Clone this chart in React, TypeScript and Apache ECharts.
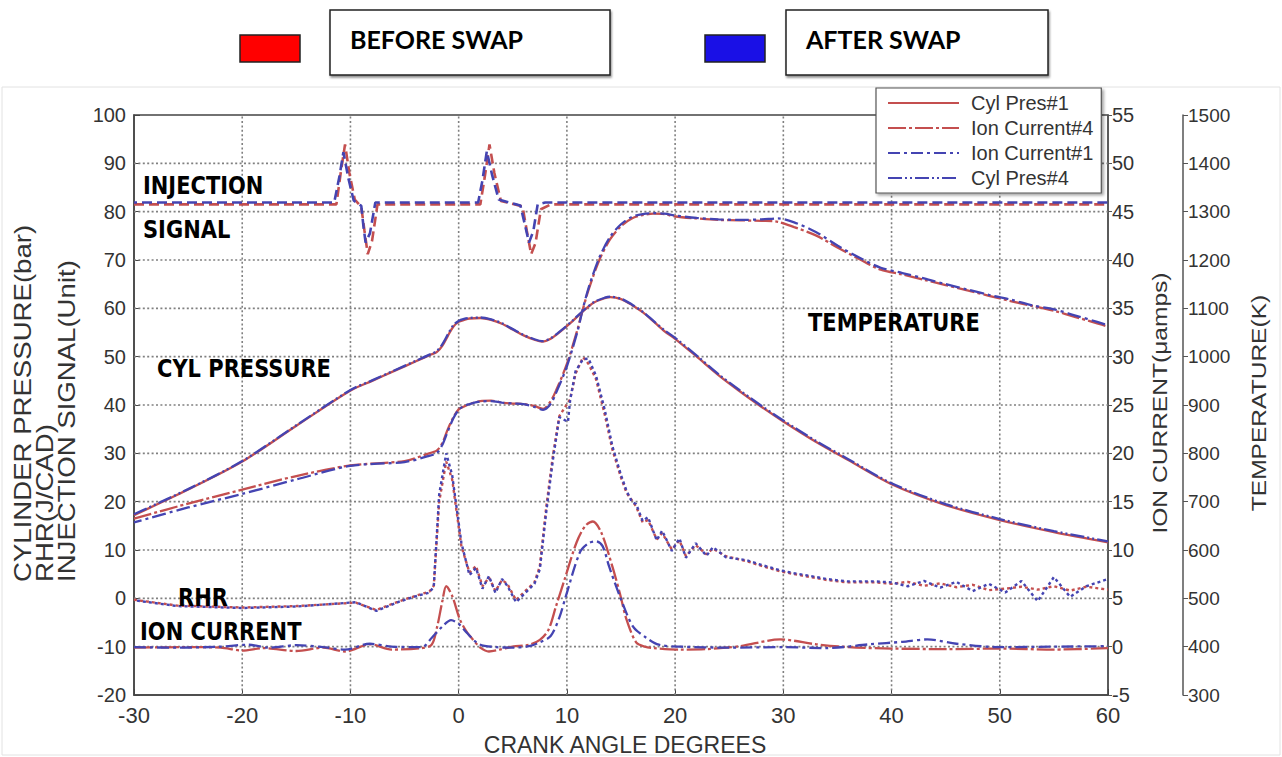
import React, { useEffect, useRef } from "react";
import * as echarts from "echarts";

const RED = "#c44f4f";
const BLUE = "#4444b2";
const AXIS_FONT = "'Liberation Sans', Arial, Helvetica, sans-serif";
const MARK_FONT = "'DejaVu Sans', Verdana, sans-serif";

// Interior grid positions
const gridAngles = [-20, -10, 0, 10, 20, 30, 40, 50];
const gridLevels = [-10, 0, 10, 20, 30, 40, 50, 60, 70, 80, 90];

// Cylinder pressure (bar) against crank angle (deg)
const pressureAngle = [
  -30, -25, -20, -15, -10, -8, -6, -4, -2.5, -2, -1.5, -1, -0.5, 0, 0.5, 1, 2, 3, 4, 5,
  6, 7, 7.7, 8.5, 9.5, 10.5, 11.5, 12.5, 13.5, 14, 15, 16, 17, 18, 19, 20, 22, 24, 26, 28,
  30, 33, 36, 40, 45, 50, 55, 60,
];
const pressureBefore = [
  17.2, 22.5, 28.3, 35.7, 43.0, 45.0, 47.0, 49.0, 50.5, 51.0, 52.3, 54.3, 56.2, 57.2, 57.6,
  57.9, 58.0, 57.6, 56.8, 55.6, 54.4, 53.5, 53.1, 53.7, 55.4, 57.3, 59.4, 61.2, 62.1, 62.3,
  61.9, 60.7, 59.2, 57.3, 55.3, 53.7, 50.0, 46.2, 42.8, 39.6, 36.6, 32.4, 28.6, 23.6, 19.3,
  16.2, 13.7, 11.6,
];
const pressureAfter = [
  17.4, 22.6, 28.4, 35.8, 43.1, 45.1, 47.1, 49.1, 50.6, 51.2, 52.6, 54.6, 56.5, 57.4, 57.8,
  58.0, 58.1, 57.7, 56.9, 55.7, 54.5, 53.6, 53.2, 53.8, 55.5, 57.4, 59.5, 61.3, 62.2, 62.4,
  62.0, 60.8, 59.3, 57.4, 55.5, 53.9, 50.2, 46.4, 43.0, 39.8, 36.8, 32.6, 28.8, 23.8, 19.5,
  16.4, 13.9, 11.8,
];

// In-cylinder temperature (K)
const tempAngle = [
  -30, -25, -20, -15, -10, -5, -3, -2, -1.5, -1, -0.5, 0, 0.5, 1, 2, 3, 4, 5, 6, 7, 7.8, 8.5,
  9, 10, 11, 11.4, 12, 13, 14, 15, 16, 17, 18, 19, 20, 22, 24, 26, 28, 29.5, 31, 33, 35, 37,
  39, 41, 43, 45, 47, 49, 51, 53, 55, 57, 59, 60,
];
const tempBefore = [
  665, 696, 725, 753, 775, 784, 798, 806, 822, 850, 874, 891, 897, 902, 908, 909, 905, 903,
  902, 898, 892, 908, 930, 985, 1058, 1092, 1138, 1200, 1243, 1270, 1286, 1293, 1296, 1295,
  1290, 1286, 1283, 1282, 1281, 1279, 1268, 1251, 1226, 1202, 1180, 1170, 1159, 1148, 1137,
  1126, 1115, 1105, 1095, 1082, 1069, 1062,
];
const tempAfter = [
  657, 688, 716, 746, 774, 782, 793, 801, 818, 846, 872, 890, 898, 902, 907, 908, 905, 903,
  902, 896, 890, 902, 925, 980, 1054, 1092, 1142, 1205, 1248, 1274, 1289, 1295, 1297, 1296,
  1292, 1287, 1284, 1283, 1284, 1286, 1278, 1258, 1230, 1205, 1184, 1173, 1162, 1150, 1139,
  1128, 1118, 1106, 1098, 1085, 1072, 1065,
];

// Rate of heat release (J/CAD)
const rhrAngle = [
  -30, -26, -20, -15, -9.5, -7.6, -5.5, -4, -2.7, -2.3, -1.8, -1.15, -0.6, 0.25, 1.0, 1.6,
  2.2, 2.8, 3.4, 4.0, 4.5, 5.3, 6.1, 7.0, 7.5, 8.1, 8.7, 9.3, 10.1, 10.3, 10.8, 11.5, 12.0,
  12.7, 13.5, 14.2, 15.0, 15.5, 16.0, 16.4, 17.0, 17.5, 18.3, 18.8, 19.7, 20.4, 21.0, 21.9,
  22.9, 23.5, 24.7, 26.6, 28, 29.7, 31, 32.8, 34, 35.9, 38.6, 40, 41.5, 43, 44.5, 46, 47.5,
  49, 50.5, 52, 53.5, 55, 56.5, 58, 60,
];
const rhrBefore = [
  -0.3, -1.5, -1.9, -1.6, -0.9, -2.4, -0.6, 0.5, 1.4, 2.6, 20.0, 28.3, 24.6, 10.8, 5.3, 6.7,
  2.5, 4.3, 1.5, 3.8, 3.0, -0.4, 1.4, 3.3, 6.6, 19.0, 29.4, 37.7, 40.5, 41.2, 46.5, 49.9,
  48.5, 45.3, 38.0, 30.8, 25.0, 21.9, 20.3, 19.0, 15.7, 16.2, 12.2, 13.5, 10.1, 12.0, 8.7,
  11.0, 9.1, 10.3, 8.7, 7.7, 6.7, 5.6, 5.0, 4.3, 3.8, 3.3, 3.3, 3.0, 3.4, 2.6, 3.1, 2.3, 2.8,
  1.7, 2.0, 2.4, 1.8, 2.5, 1.6, 2.4, 1.8,
];
const rhrAfter = [
  -0.4, -1.6, -2.0, -1.7, -0.8, -2.6, -0.7, 0.4, 1.2, 2.4, 21.5, 30.0, 25.5, 11.5, 4.8, 6.3,
  2.0, 4.6, 1.1, 4.0, 2.6, -0.8, 1.0, 3.0, 6.0, 18.0, 28.5, 37.5, 36.5, 41.0, 47.0, 49.5,
  49.6, 46.0, 39.0, 31.5, 25.5, 22.3, 20.0, 19.5, 16.0, 16.8, 12.0, 14.0, 9.8, 12.4, 8.4,
  11.4, 8.8, 10.6, 8.5, 7.9, 6.9, 5.8, 5.2, 4.5, 4.0, 3.5, 3.5, 3.3, 2.5, 3.6, 2.2, 3.4, 1.5,
  3.0, 1.2, 3.6, -0.6, 4.4, 0.3, 2.5, 4.0,
];

// Injection signal (unit)
const injAngleBefore = [
  -30, -11.3, -10.9, -10.5, -10.1, -9.6, -9.0, -8.7, -8.4, -8.0, -7.5, 2.0, 2.4, 2.85, 3.3,
  3.9, 5.9, 6.3, 6.7, 7.1, 7.6, 8.5, 60,
];
const injBefore = [
  81.5, 81.5, 88, 93.9, 88, 82.5, 81, 76, 71.2, 74, 81.5, 81.5, 87, 93.9, 88, 82.2, 81.1, 76,
  71.2, 73.5, 80.5, 81.5, 81.5,
];
const injAngleAfter = [
  -30, -11.5, -11.0, -10.65, -10.2, -9.7, -9.0, -8.8, -8.6, -8.2, -7.7, 1.8, 2.2, 2.6, 3.1,
  3.7, 5.7, 6.1, 6.5, 6.9, 7.3, 8.0, 60,
];
const injAfter = [
  81.9, 81.9, 87.5, 92.3, 87, 82.3, 81.2, 77, 73.6, 75.5, 81.9, 81.9, 86.5, 92.5, 87.5, 82.5,
  81.3, 77.5, 73.6, 76, 81.5, 81.9, 81.9,
];

// Ion current (µamps)
const ionAngleBefore = [
  -30, -25, -22, -20, -18, -15, -12.5, -10.5, -8.2, -6.2, -3.5, -2.5, -2, -1.5, -1.15, -0.6,
  0.1, 0.7, 1.3, 2.0, 2.8, 3.8, 5.0, 6.5, 7.5, 8.3, 9.0, 9.8, 10.9, 11.7, 12.4, 13.2, 14.2,
  14.9, 15.5, 16.4, 17.2, 18.0, 20.4, 23, 26, 29.7, 33, 36, 40, 45, 50, 55, 60,
];
const ionBefore = [
  -0.1, -0.05, -0.1, -0.4, -0.15, -0.45, -0.1, -0.5, 0.25, -0.3, -0.15, 0.2, 2.0, 4.75, 6.25,
  5.25, 2.85, 1.6, 0.75, -0.1, -0.5, -0.3, 0, 0.2, 0.7, 1.75, 4.2, 7.0, 10.8, 12.5, 12.95,
  11.75, 8.3, 5.5, 2.85, 0.45, 0, -0.15, -0.3, -0.25, 0.05, 0.75, 0.25, -0.05, -0.2, -0.25,
  -0.2, -0.3, -0.15,
];
const ionAngleAfter = [
  -30, -26, -22, -19.5, -17.5, -15, -12.5, -10.5, -8.2, -6.2, -3.4, -2.5, -1.5, -0.7, 0.0,
  0.7, 1.9, 3.5, 5.0, 6.5, 7.5, 8.5, 9.3, 9.9, 11.2, 12.0, 12.7, 13.3, 13.9, 14.9, 16.1, 17.3,
  18.5, 20.5, 25, 30, 34, 38, 41, 43.3, 46, 50, 55, 60,
];
const ionAfter = [
  -0.05, -0.1, 0, 0.2, -0.1, 0.15, -0.05, -0.3, 0.3, 0, -0.05, 0.9, 2.1, 2.75, 2.35, 1.5,
  0.25, -0.05, -0.1, 0.05, 0.45, 1.1, 3.0, 5.2, 9.75, 10.7, 10.9, 10.4, 8.3, 5.2, 2.1, 0.95,
  0.2, 0, -0.1, -0.05, -0.15, 0.25, 0.5, 0.75, 0.3, -0.05, 0, 0.05,
];

const legendNames = ["Cyl Pres#1", "Ion Current#4", "Ion Current#1", "Cyl Pres#4"];

const X_MIN = -30;
const X_MAX = 60;
const Y_MIN = -20;
const Y_MAX = 100;

const zip = (xs: number[], ys: number[]) => xs.map((x, i) => [x, ys[i]]);

function lineSeries(
  name: string,
  data: number[][],
  yAxisIndex: number,
  color: string,
  type: any,
  smooth: number | boolean,
  dashOffset = 0,
  width = 2.3
) {
  return {
    name,
    type: "line",
    data: zip(data[0], data[1]),
    yAxisIndex,
    symbol: "none",
    smooth,
    silent: true,
    itemStyle: { color },
    lineStyle: { color, width, type, dashOffset },
    emphasis: { disabled: true },
  };
}

// Dotted interior grid, placed through the cartesian scales
function gridSeries() {
  const data = [
    ...gridAngles.map((v) => [v, 0]),
    ...gridLevels.map((v) => [v, 1]),
  ];
  return {
    name: "grid",
    type: "custom",
    xAxisIndex: 0,
    yAxisIndex: 0,
    silent: true,
    z: 1,
    data,
    renderItem: (_params: any, api: any) => {
      const v = api.value(0);
      const vertical = api.value(1) === 0;
      const p1 = vertical ? api.coord([v, Y_MIN]) : api.coord([X_MIN, v]);
      const p2 = vertical ? api.coord([v, Y_MAX]) : api.coord([X_MAX, v]);
      return {
        type: "line",
        shape: { x1: p1[0], y1: p1[1], x2: p2[0], y2: p2[1] },
        style: { stroke: "#808080", lineWidth: 1.6, lineDash: [2, 2.4] },
        silent: true,
      };
    },
  };
}

function plotLabel(text: string, x: number, y: number) {
  return {
    type: "text",
    x,
    y,
    scaleY: 1.15,
    z: 50,
    style: {
      text,
      fill: "#000",
      font: `bold 21px ${MARK_FONT}`,
      textAlign: "left",
      textVerticalAlign: "middle",
      align: "left",
      verticalAlign: "middle",
    },
  };
}

function axisTitle(text: string, x: number, y: number, align: string, size: number, stretch: number) {
  return {
    type: "text",
    x,
    y,
    rotation: Math.PI / 2,
    scaleX: stretch,
    z: 50,
    style: {
      text,
      fill: "#333",
      font: `${size}px ${AXIS_FONT}`,
      textAlign: align,
      textVerticalAlign: "middle",
      align,
      verticalAlign: "middle",
    },
  };
}

function swapBox(x: number, w: number, swatchX: number, swatch: string, label: string) {
  return [
    {
      type: "rect",
      shape: { x: swatchX, y: 35, width: 60, height: 27 },
      style: { fill: swatch, stroke: "#222", lineWidth: 1.5 },
    },
    {
      type: "rect",
      shape: { x, y: 10, width: w, height: 65 },
      style: {
        fill: "#fff",
        stroke: "#222",
        lineWidth: 1.5,
        shadowColor: "rgba(0,0,0,0.45)",
        shadowBlur: 2,
        shadowOffsetX: 1,
        shadowOffsetY: 2,
      },
    },
    {
      type: "text",
      x: x + 20,
      y: 39,
      style: {
        text: label,
        fill: "#000",
        font: `bold 25px Lato, 'Open Sans', sans-serif`,
        textAlign: "left",
        textVerticalAlign: "middle",
        align: "left",
        verticalAlign: "middle",
      },
    },
  ];
}

export default function App() {
  const ref = useRef<HTMLDivElement>(null);

  useEffect(() => {
    if (!ref.current) return;
    const chart = echarts.init(ref.current, undefined, { renderer: "svg" });

    const tickLabel = { color: "#333", fontFamily: AXIS_FONT, fontSize: 20 };
    const plain = (v: number) => String(v);

    const option: any = {
      animation: false,
      backgroundColor: "#fff",
      grid: {
        left: 134,
        right: 174,
        top: 115,
        bottom: 62,
        show: true,
        borderColor: "#444",
        borderWidth: 1.5,
        backgroundColor: "transparent",
      },
      legend: {
        data: legendNames,
        orient: "vertical",
        left: 876,
        top: 88,
        padding: [5, 8, 5, 11],
        itemWidth: 71,
        itemHeight: 14,
        itemGap: 5,
        backgroundColor: "#fff",
        borderColor: "#555",
        borderWidth: 1.2,
        shadowColor: "rgba(0,0,0,0.35)",
        shadowBlur: 3,
        shadowOffsetX: 2,
        shadowOffsetY: 2,
        selectedMode: false,
        itemStyle: { opacity: 0, borderWidth: 0 },
        textStyle: { fontFamily: AXIS_FONT, fontSize: 20, color: "#333", padding: [0, 0, 0, 7] },
        z: 20,
      },
      xAxis: {
        type: "value",
        min: X_MIN,
        max: X_MAX,
        interval: 10,
        axisLine: { show: true, onZero: false, lineStyle: { color: "#444", width: 1.5 } },
        axisTick: { show: true, inside: true, length: 6, lineStyle: { color: "#444" } },
        axisLabel: { ...tickLabel, fontSize: 22, margin: 9, formatter: plain },
        splitLine: { show: false },
      },
      yAxis: [
        {
          type: "value",
          min: Y_MIN,
          max: Y_MAX,
          interval: 10,
          position: "left",
          axisLine: { show: true, onZero: false, lineStyle: { color: "#444", width: 1.5 } },
          axisTick: { show: true, inside: true, length: 6, lineStyle: { color: "#444" } },
          axisLabel: { ...tickLabel, margin: 8, formatter: plain },
          splitLine: { show: false },
        },
        {
          type: "value",
          min: -5,
          max: 55,
          interval: 5,
          position: "right",
          axisLine: { show: true, onZero: false, lineStyle: { color: "#555", width: 1.5 } },
          axisTick: { show: true, inside: false, length: 4, lineStyle: { color: "#555" } },
          axisLabel: { ...tickLabel, margin: 4, formatter: plain },
          splitLine: { show: false },
        },
        {
          type: "value",
          min: 300,
          max: 1500,
          interval: 100,
          position: "right",
          offset: 75,
          axisLine: { show: true, onZero: false, lineStyle: { color: "#555", width: 1.5 } },
          axisTick: { show: true, inside: false, length: 5, lineStyle: { color: "#555" } },
          axisLabel: { ...tickLabel, fontSize: 19, margin: 5, formatter: plain },
          splitLine: { show: false },
        },
      ],
      series: [
        gridSeries(),
        lineSeries("Injection#1", [injAngleBefore, injBefore], 0, RED, [10, 5], false, 0, 2.6),
        lineSeries("Injection#4", [injAngleAfter, injAfter], 0, BLUE, [10, 5], false, 7, 2.6),
        lineSeries("Temperature#1", [tempAngle, tempBefore], 2, RED, [18, 3, 3, 3], 0.3),
        lineSeries("Temperature#4", [tempAngle, tempAfter], 2, BLUE, [14, 4, 3, 4], 0.3, 6),
        lineSeries("Cyl Pres#1", [pressureAngle, pressureBefore], 0, RED, "solid", 0.3),
        lineSeries("Cyl Pres#4", [pressureAngle, pressureAfter], 0, BLUE, [14, 3, 2, 3, 2, 3], 0.3),
        lineSeries("RHR#1", [rhrAngle, rhrBefore], 0, RED, [3, 3], false, 0, 2.4),
        lineSeries("RHR#4", [rhrAngle, rhrAfter], 0, BLUE, [3, 3], false, 3, 2.4),
        lineSeries("Ion Current#4", [ionAngleBefore, ionBefore], 1, RED, [18, 3, 3, 3], 0.3),
        lineSeries("Ion Current#1", [ionAngleAfter, ionAfter], 1, BLUE, [12, 4, 3, 4], 0.3),
      ],
      graphic: [
        {
          type: "rect",
          z: -10,
          shape: { x: 2, y: 87, width: 1278, height: 668 },
          style: { fill: "none", stroke: "#e2e2e2", lineWidth: 1 },
        },
        ...swapBox(330, 280, 240, "#ff0000", "BEFORE SWAP"),
        ...swapBox(786, 262, 705, "#1a10e6", "AFTER SWAP"),
        plotLabel("INJECTION", 143, 185),
        plotLabel("SIGNAL", 143, 229),
        plotLabel("CYL PRESSURE", 157, 368),
        plotLabel("TEMPERATURE", 808, 322),
        plotLabel("RHR", 178, 597),
        plotLabel("ION CURRENT", 140, 631),
        axisTitle("CYLINDER PRESSURE(bar)", 23, 582, "left", 23, 1.2),
        axisTitle("RHR(J/CAD)", 45, 582, "left", 23, 1.2),
        axisTitle("INJECTION SIGNAL(Unit)", 67, 582, "left", 23, 1.2),
        axisTitle("ION CURRENT(\u03bcamps)", 1160, 403, "center", 21, 1.17),
        axisTitle("TEMPERATURE(K)", 1259, 403, "center", 21, 1.17),
        {
          type: "text",
          x: 625,
          y: 745,
          z: 50,
          style: {
            text: "CRANK ANGLE DEGREES",
            fill: "#333",
            font: `23px ${AXIS_FONT}`,
            textAlign: "center",
            textVerticalAlign: "middle",
            align: "center",
            verticalAlign: "middle",
          },
        },
      ],
    };

    chart.setOption(option);
    return () => chart.dispose();
  }, []);

  return (
    <div
      ref={ref}
      style={{ position: "absolute", left: 0, top: 0, width: 1282, height: 757, background: "#fff" }}
    />
  );
}
